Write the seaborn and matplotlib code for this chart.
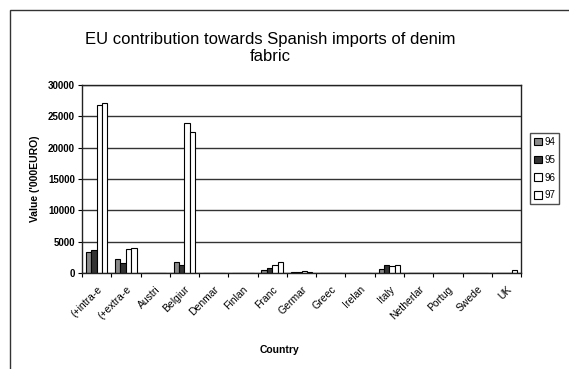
import numpy as np
import pandas as pd
import matplotlib
matplotlib.use("Agg")
import matplotlib.pyplot as plt
import seaborn as sns
from matplotlib.patches import Rectangle

# data ('000 EURO)
countries = ["(+intra-e", "(+extra-e", "Austri", "Belgiur", "Denmar", "Finlan",
             "Franc", "Germar", "Greec", "Irelan", "Italy", "Netherlar",
             "Portug", "Swede", "UK"]
years = ["94", "95", "96", "97"]
v94 = [3350, 2300, 0, 1750, 0, 0, 550, 150, 0, 0, 700, 60, 60, 20, 0]
v95 = [3600, 1600, 0, 1350, 0, 0, 800, 150, 0, 0, 1300, 40, 40, 10, 0]
v96 = [26800, 3900, 0, 23900, 0, 0, 1350, 250, 0, 0, 1200, 60, 50, 20, 60]
v97 = [27050, 4050, 0, 22550, 0, 0, 1750, 150, 0, 0, 1350, 50, 60, 30, 550]

df = pd.DataFrame({
    "Country": countries * 4,
    "Year": np.repeat(years, len(countries)),
    "Value": v94 + v95 + v96 + v97,
})

sns.set_style("ticks")
plt.rcParams["font.family"] = ["Liberation Sans", "DejaVu Sans"]
plt.rcParams["text.color"] = "black"
plt.rcParams["xtick.color"] = "black"
plt.rcParams["ytick.color"] = "black"
plt.rcParams["axes.labelcolor"] = "black"

fig = plt.figure(figsize=(5.69, 3.69), dpi=100)
ax = fig.add_axes([0.144, 0.260, 0.772, 0.510])

pal = ["#8a8a8a", "#333333", "#ffffff", "#ffffff"]
sns.barplot(data=df, x="Country", y="Value", hue="Year", palette=pal,
            width=0.74, edgecolor="black", linewidth=0.8, ax=ax)

ax.set_ylim(0, 30000)
ax.set_yticks(range(0, 30001, 5000))
ax.set_xlim(-0.5, len(countries) - 0.5)
ax.yaxis.grid(True, color="#333333", linewidth=1.0)
ax.set_axisbelow(True)
for s in ax.spines.values():
    s.set_color("#222222")
    s.set_linewidth(1.0)

ax.tick_params(axis="y", labelsize=7, length=3, width=0.8, pad=2)
for t in ax.get_yticklabels():
    t.set_fontweight("bold")
ax.set_xticks(range(len(countries)))
ax.set_xticklabels(countries, rotation=45, ha="right", rotation_mode="anchor",
                   fontsize=7.5)
ax.tick_params(axis="x", length=0, pad=8)
ax.set_xticks(np.arange(-0.5, len(countries), 1), minor=True)
ax.tick_params(axis="x", which="minor", length=3, width=0.8)

ax.set_xlabel("")
ax.set_ylabel("Value ('000EURO)", fontsize=7.5, fontweight="bold", labelpad=6)

leg = ax.legend(loc="center left", bbox_to_anchor=(1.02, 0.555), fontsize=7,
                frameon=True, fancybox=False, edgecolor="#222222",
                handlelength=0.8, handleheight=0.8, handletextpad=0.3,
                borderpad=0.4, labelspacing=0.8, borderaxespad=0)
leg.get_frame().set_linewidth(1.0)

fig.text(0.475, 0.87, "EU contribution towards Spanish imports of denim\nfabric",
         ha="center", va="center", fontsize=12, linespacing=1.15)
fig.text(0.492, 0.051, "Country", ha="center", va="center",
         fontsize=7.5, fontweight="bold")

# outer chart frame
fig.patches.append(Rectangle((0.018, -0.05), 1.05, 1.023, transform=fig.transFigure,
                             fill=False, edgecolor="#333333", linewidth=1.0))

fig.savefig("out.png", dpi=100)
